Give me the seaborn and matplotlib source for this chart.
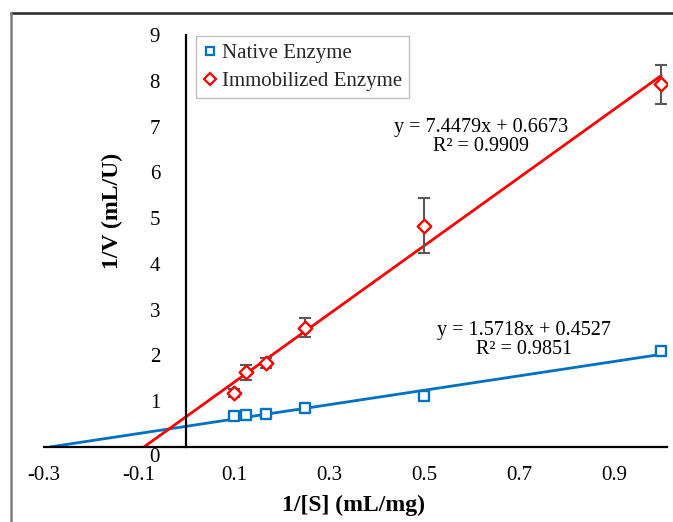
import numpy as np
import pandas as pd
import matplotlib
matplotlib.use("Agg")
import matplotlib.pyplot as plt
import matplotlib.transforms as mtransforms
from matplotlib.lines import Line2D
import seaborn as sns

# ---- data ----
inv_s = [0.1, 0.125, 0.1667, 0.25, 0.5, 1.0]
native_v = [0.68, 0.69, 0.72, 0.86, 1.12, 2.09]
native_err = [0.03, 0.03, 0.03, 0.04, 0.06, 0.04]
immob_v = [1.18, 1.63, 1.83, 2.61, 4.83, 7.92]
immob_err = [0.09, 0.16, 0.11, 0.20, 0.60, 0.43]
native_fit = (1.5718, 0.4527, 0.9851)
immob_fit = (7.4479, 0.6673, 0.9909)
series_names = ["Native Enzyme", "Immobilized Enzyme"]
x_ticks = [-0.3, -0.1, 0.1, 0.3, 0.5, 0.7, 0.9]
y_ticks = list(range(0, 10))

BLUE = "#0070C0"
RED = "#FF0000"
ERR = "#595959"

sns.set_theme(style="white")
plt.rcParams["font.family"] = ["Liberation Serif", "DejaVu Serif"]

fig = plt.figure(figsize=(6.73, 5.22), dpi=100)
AX_L, AX_R, AX_T, AX_B = 44, 667, 35, 447
ax = fig.add_axes([AX_L / 673, 1 - AX_B / 522, (AX_R - AX_L) / 673, (AX_B - AX_T) / 522])

# trendlines (backward forecast to y=0, forward to x=1.0)
def fit_line(m, b):
    xs = np.array([-b / m, 1.0])
    return pd.DataFrame({"x": xs, "y": m * xs + b})

nl = fit_line(*native_fit[:2])
il = fit_line(*immob_fit[:2])
sns.lineplot(data=nl, x="x", y="y", ax=ax, color=BLUE, lw=2.0, zorder=2)
sns.lineplot(data=il, x="x", y="y", ax=ax, color=RED, lw=2.0, zorder=2)

# error bars
ax.errorbar(inv_s, native_v, yerr=native_err, fmt="none", ecolor=ERR,
            elinewidth=1.5, capsize=4.5, capthick=1.5, zorder=3)
ax.errorbar(inv_s, immob_v, yerr=immob_err, fmt="none", ecolor=ERR,
            elinewidth=1.5, capsize=4.5, capthick=1.5, zorder=3)

df = pd.DataFrame({"x": inv_s + inv_s, "y": native_v + immob_v,
                   "s": [series_names[0]] * 6 + [series_names[1]] * 6})
sns.scatterplot(data=df[df.s == series_names[0]], x="x", y="y", ax=ax,
                marker="s", s=48, facecolor="white", edgecolor=BLUE,
                linewidth=1.7, zorder=4, legend=False)
sns.scatterplot(data=df[df.s == series_names[1]], x="x", y="y", ax=ax,
                marker="D", s=48, facecolor="white", edgecolor=RED,
                linewidth=1.7, zorder=4, legend=False)

ax.set_xlim(-0.3, 1.012)
ax.set_ylim(0, 9)
ax.set_xticks(x_ticks)
ax.set_xticklabels([f"{t:.1f}" for t in x_ticks])
ax.set_yticks(y_ticks)
ax.set_yticklabels([str(t) for t in y_ticks])

for s in ["top", "right"]:
    ax.spines[s].set_visible(False)
ax.spines["left"].set_position(("data", 0))
ax.spines["bottom"].set_position(("data", 0))
for s in ["left", "bottom"]:
    ax.spines[s].set_color("black")
    ax.spines[s].set_linewidth(1.6)
ax.tick_params(axis="both", which="major", direction="out", length=6,
               width=1.3, color="black", labelsize=15, labelcolor="black")
ax.tick_params(axis="x", pad=8)
ax.tick_params(axis="y", pad=13)
ax.set_facecolor("none")

# shift the "0" y tick label a bit downward
lab0 = ax.get_yticklabels()[0]
lab0.set_transform(lab0.get_transform() +
                   mtransforms.ScaledTranslation(0, -8 / 100, fig.dpi_scale_trans))

ax.set_xlabel("1/[S] (mL/mg)", fontsize=17, fontweight="bold", color="black")
ax.set_ylabel("1/V (mL/U)", fontsize=17, fontweight="bold", color="black")
ax.xaxis.set_label_coords((353 - AX_L) / (AX_R - AX_L), -(495 - AX_B) / (AX_B - AX_T))
ax.yaxis.set_label_coords((123 - AX_L) / (AX_R - AX_L), (AX_B - 211) / (AX_B - AX_T))

# equations
def eq_text(m, b, r2):
    return f"y = {m:.4f}x + {b:.4f}\nR² = {r2:.4f}"

fig.text(481 / 673, 1 - 137 / 522, eq_text(*immob_fit), ha="center", va="center",
         fontsize=14.5, linespacing=1.05, color="black")
fig.text(524 / 673, 1 - 340 / 522, eq_text(*native_fit), ha="center", va="center",
         fontsize=14.5, linespacing=1.05, color="black")

handles = [
    Line2D([], [], marker="s", ls="none", markersize=6, markerfacecolor="white",
           markeredgecolor=BLUE, markeredgewidth=1.6),
    Line2D([], [], marker="D", ls="none", markersize=6, markerfacecolor="white",
           markeredgecolor=RED, markeredgewidth=1.6),
]
leg = ax.legend(handles, series_names, loc="upper left",
                bbox_to_anchor=(196 / 673, 1 - 36 / 522), bbox_transform=fig.transFigure,
                fontsize=15, frameon=True, fancybox=False, framealpha=1,
                edgecolor="#BFBFBF", handlelength=0.6, handletextpad=0.3,
                borderpad=0.35, labelspacing=0.4, borderaxespad=0)
leg.get_frame().set_linewidth(1.0)

# partial frame of the screenshot
fig.add_artist(Line2D([11 / 673, 1], [1 - 13 / 522, 1 - 13 / 522],
                      transform=fig.transFigure, color="#262626", lw=1.8))
fig.add_artist(Line2D([11 / 673, 11 / 673], [0, 1 - 13 / 522],
                      transform=fig.transFigure, color="#808080", lw=1.8))

fig.savefig("out.png", dpi=100)
